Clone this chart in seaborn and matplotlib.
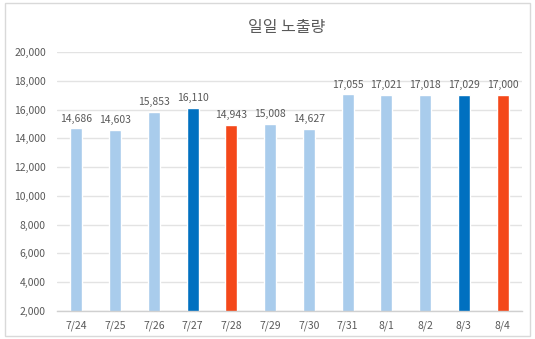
import matplotlib
matplotlib.use("Agg")
import matplotlib.pyplot as plt
from matplotlib.patches import Rectangle
from matplotlib.ticker import FuncFormatter, FixedLocator, NullFormatter
import seaborn as sns
import pandas as pd

dates = ["7/24", "7/25", "7/26", "7/27", "7/28", "7/29", "7/30",
         "7/31", "8/1", "8/2", "8/3", "8/4"]
impressions = [14686, 14603, 15853, 16110, 14943, 15008, 14627,
               17055, 17021, 17018, 17029, 17000]
bar_colors = ["#A9CCEC", "#A9CCEC", "#A9CCEC", "#0070C0", "#F4481A", "#A9CCEC",
              "#A9CCEC", "#A9CCEC", "#A9CCEC", "#A9CCEC", "#0070C0", "#F4481A"]

df = pd.DataFrame({"date": dates, "value": impressions})

sns.set_theme(style="white")
plt.rcParams["font.family"] = ["Noto Sans CJK KR", "DejaVu Sans"]

fig = plt.figure(figsize=(5.35, 3.39), dpi=100)
fig.patches.append(Rectangle((0.009, 0.009), 0.982, 0.982, transform=fig.transFigure,
                             fill=False, edgecolor="#D9D9D9", linewidth=1.0))
ax = fig.add_axes([0.1065, 0.0826, 0.869, 0.764])

sns.barplot(data=df, x="date", y="value", hue="date", palette=bar_colors,
            legend=False, width=0.31, ax=ax, saturation=1)

ax.set_ylim(2000, 20000)
ax.set_yticks(range(2000, 20001, 2000))
ax.yaxis.set_major_formatter(FuncFormatter(lambda v, p: f"{int(v):,}"))
ax.grid(axis="y", color="#E3E3E3", linewidth=1.0)
ax.set_axisbelow(True)
ax.set_xlim(-0.5, len(dates) - 0.5)

for s in ["top", "right", "left"]:
    ax.spines[s].set_visible(False)
ax.spines["bottom"].set_color("#D0D0D0")
ax.spines["bottom"].set_linewidth(1.0)

ax.tick_params(axis="y", length=0, labelsize=7.5, labelcolor="#595959", pad=8)
ax.tick_params(axis="x", which="major", length=0, labelsize=7.5, labelcolor="#595959", pad=7)
ax.xaxis.set_minor_locator(FixedLocator([i - 0.5 for i in range(len(dates) + 1)]))
ax.xaxis.set_minor_formatter(NullFormatter())
ax.tick_params(axis="x", which="minor", length=4, color="#D0D0D0", width=1.0, direction="out")
ax.set_xlabel("")
ax.set_ylabel("")

for i, v in enumerate(impressions):
    ax.annotate(f"{v:,}", (i, v), xytext=(0, 3.5), textcoords="offset points",
                ha="center", va="bottom", fontsize=7.5, color="#595959")

fig.text(0.535, 0.918, "일일 노출량", ha="center", va="center", fontsize=11.5, color="#595959")

fig.savefig("out.png", dpi=100)
